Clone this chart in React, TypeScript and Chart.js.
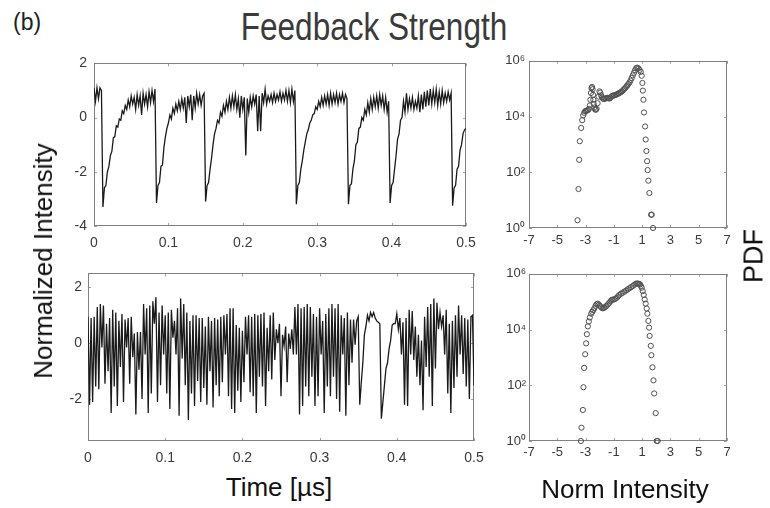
import React, { useEffect, useRef } from "react";
import { Chart, registerables } from "chart.js";

Chart.register(...registerables);

// ---------- data ----------
const SAMPLE_STEP_US = 0.002;

// top-left: normalized intensity vs time (one sample every 0.002 us, 0 .. 0.5 us)
const TOP_INTENSITY = [
  1.1, 0.6, 1.1, 0.7, 1.1, 1.0,
  -3.3, -2.6, -2.5, -2.0, -1.8, -1.4, -1.25, -0.75, -0.7, -0.3, -0.35, -0.05, -0.1, 0.25, 0.15,
  0.45, 0.3, 0.65, 0.4, 0.8, 0.5, 0.75, 0.3, 0.85, 0.45, 0.8, 0.1, 0.9, 0.5, 0.85, 0.4, 0.95, 0.55, 1.0, 0.6, 1.05,
  -3.15, -2.5, -2.4, -1.8, -1.75, -1.1, -0.7, -0.4, -0.2, 0.1, -0.05, 0.35, 0.15, 0.5, 0.25, 0.6, 0.3, 0.7, 0.35, 0.75,
  -0.2, 0.8, 0.4, 0.85, -0.1, 0.8, 0.35, 0.9, 0.5, 0.85, 0.45, 0.8, 0.9,
  -3.1, -2.5, -2.4, -1.9, -1.5, -1.0, -0.6, -0.4, -0.1, -0.2, 0.2, 0.05, 0.45, 0.2, 0.6, 0.3, 0.75, 0.35, 0.8, 0.4,
  0.85, 0.3, 0.7, 0.0, 0.8, 0.3, 0.75, -1.4, 0.7, 0.2, 0.75, 0.4, 0.8, 0.5, 0.85, -0.5, 0.8, -0.5, 0.9, 0.55,
  1.05, 0.5, 0.8, 0.6, 0.85, 0.55, 0.9, 0.6, 0.85, 0.65, 0.95, 0.6, 0.9, 0.65, 1.0, 0.6, 1.0, 0.55, 1.05, 0.6, 1.0,
  -3.2, -2.5, -2.4, -1.9, -1.6, -1.2, -0.9, -0.6, -0.45, -0.2, -0.1, 0.1, 0.15, 0.4, 0.3, 0.6, 0.4, 0.75, 0.45, 0.8,
  0.5, 0.85, 0.45, 0.9, 0.5, 0.85, 0.55, 0.9, 0.5, 0.85, 0.6, 0.9, 0.55, 0.85, 0.7,
  -3.2, -2.5, -2.45, -1.9, -1.6, -1.0, -0.9, -0.4, -0.35, 0.0, -0.1, 0.3, 0.1, 0.55, 0.2, 0.7, 0.3, 0.75, 0.4, 0.8,
  0.35, 0.85, 0.45, 0.8, 0.3, 0.75, 0.2, 0.6,
  -3.15, -2.5, -2.4, -1.9, -1.4, -0.8, -0.6, -0.1, 0.0, 0.6, 0.2, 0.9, 0.3, 0.7, 0.35, 0.75, 0.3, 0.6, 0.35, 0.8,
  0.2, 0.85, 0.3, 0.95, 0.4, 1.0, 0.45, 1.05, 0.5, 1.0, 0.55, 1.05, 0.45, 0.95, 0.5, 1.0, 0.55, 0.9, 0.6, 0.95, 0.65, 0.9,
  -3.25, -2.6, -2.5, -1.9, -1.8, -1.2, -1.0, -0.6, -0.45, -0.4,
];

// bottom-left: normalized intensity vs time (one sample every 0.002 us, 0 .. 0.5 us)
const BOTTOM_INTENSITY = [
  0.95, -2.2, 0.9, -2.1, 0.95, -1.55, 1.3, -1.65, 1.4, -0.15,
  1.35, -1.45, 0.7, -1.0, 0.9, -2.5, 1.2, -1.55, 1.1, -2.25,
  0.8, -0.85, 1.05, -2.1, 0.85, -0.15, 0.9, -1.45, 0.95, -0.5,
  0.35, -2.55, 0.4, -0.95, 0.4, -2.0, 1.4, -0.4, 1.25, -2.5,
  1.35, -1.8, 1.5, 0.7, 1.65, -2.1, 1.1, -1.5, 1.35, -0.4,
  1.0, -1.8, 1.1, -2.35, 1.2, 0.2, 0.8, -0.4, 1.25, -2.6,
  1.6, -0.55, 1.4, -1.5, 1.1, -2.75, 0.8, -1.8, 1.0, -2.25,
  1.0, -1.35, 0.9, -2.1, 0.9, -1.6, 0.6, -2.2, 0.95, -1.0,
  0.8, -2.3, 0.9, -1.5, 0.85, -1.9,
  0.95, -1.4, 1.0, -0.4, 1.05, -1.9, 1.25, -2.35, 1.25, -2.5,
  0.65, -1.7, 0.55, -2.1, 0.45, -1.4, 0.95, -0.4, 1.0, -1.75,
  0.95, -1.9, 1.05, -2.5, 1.0, -1.2, 1.05, -1.55, 1.1, -2.25,
  0.55, -1.0, 1.0, -1.3, 1.1, -0.6, 0.5, 0.0, 0.7, -1.9,
  0.3, -0.1, 0.6, -1.4, 0.35, -0.2, 0.5, -0.4, 1.3, -0.4,
  1.4, -2.55, 1.25, -2.25, 1.3, -1.55, 1.4, -1.9, 1.3, -1.2,
  1.05, -2.25, 0.95, -1.9, 1.25, -0.4, 0.8, -2.5, 1.05, -1.55,
  1.25, -1.9, 1.4, -1.2, 1.25, -2.0, 1.4, -2.45, 1.0, -0.4,
  0.9, -2.6, 1.1,
  -1.5, 0.85, -0.7, 0.85, -0.05, 0.8, 0.95, -2.2, -1.4, -0.7,
  0.3, 0.6, 1.0, 0.8, 1.1, 0.95, 1.1, 0.9, 0.8, 0.75,
  0.7, -2.7, -2.1, -1.5, -0.9, -0.7, -0.2, 0.1, 0.65, 0.7,
  0.7, 1.05, 0.5, 0.9, -0.4, 0.75, -2.2, 0.9, -2.25, 1.2,
  -0.4, 1.15, -0.6, 0.6, -1.2, 0.3, -1.5, 0.1, -2.4, 0.95,
  -0.85, 1.3, -1.2, 1.4, -2.25, 1.6, -0.9, 1.45, 0.5, 1.1,
  0.6, 1.0, -0.4, 1.2, -1.8, 0.7, -2.5, 0.8, -1.6, 1.0,
  -1.2, 1.35, -0.4, 1.0, -1.1, 0.9, -1.55, 0.85, -2.0, 0.95,
  1.0, -1.5,
];

// top-right PDF
const PDF_TOP_X = [
  -3.57, -3.5, -3.45, -3.41, -3.31, -3.24, -3.17, -3.1, -3.03, -2.97, -2.9, -2.83, -2.76, -2.7, -2.66, -2.62,
  -2.58, -2.54, -2.5, -2.47, -2.45, -2.42, -2.38, -2.33, -2.27, -2.22, -2.15, -2.08, -2.02, -1.96, -1.9, -1.84,
  -1.77, -1.7, -1.62, -1.55, -1.47, -1.4, -1.32, -1.25, -1.18, -1.1, -1.02, -0.95, -0.87, -0.8, -0.72, -0.65,
  -0.57, -0.5, -0.42, -0.35, -0.27, -0.2, -0.12, -0.05, 0.03, 0.1, 0.18, 0.26, 0.34, 0.42, 0.5, 0.58, 0.66,
  0.74, 0.82, 0.9, 0.97, 1.02, 1.05, 1.09, 1.13, 1.21, 1.25, 1.3, 1.35, 1.39, 1.44, 1.51, 1.63, 1.68, 1.77,
];
const PDF_TOP_Y = [
  1.9, 25, 280, 1300, 3900, 7400, 11000, 13500, 15500, 16000, 16500, 17000, 19000, 25000, 40000, 70000,
  105000, 115000, 95000, 60000, 40000, 28000, 21000, 18000, 17500, 19000, 30000, 52000, 80000, 72000, 58000, 48000,
  44000, 43000, 44000, 45000, 47000, 46000, 44000, 47000, 52000, 55000, 57000, 58000, 60000, 62000, 65000, 68000,
  72000, 76000, 80000, 88000, 97000, 105000, 118000, 130000, 148000, 165000, 195000, 240000, 300000, 370000, 460000, 550000, 565000,
  530000, 470000, 400000, 290000, 160000, 85000, 40000, 14000, 4400, 1500, 580, 250, 120, 50, 18, 3, 3, 1,
];

// bottom-right PDF
const PDF_BOTTOM_X = [
  -3.33, -3.29, -3.19, -3.15, -3.1, -3.03, -2.96, -2.91, -2.84, -2.77, -2.7, -2.6, -2.53, -2.46, -2.38, -2.29,
  -2.22, -2.15, -2.06, -1.98, -1.9, -1.8, -1.72, -1.66, -1.58, -1.51, -1.42, -1.32, -1.24, -1.16, -1.08, -0.99,
  -0.9, -0.8, -0.71, -0.62, -0.5, -0.38, -0.26, -0.14, -0.02, 0.09, 0.21, 0.33, 0.44, 0.54, 0.63, 0.71,
  0.78, 0.85, 0.91, 0.97, 1.04, 1.11, 1.18, 1.25, 1.32, 1.37, 1.44, 1.49, 1.53, 1.61, 1.65, 1.73, 1.8, 1.85,
  1.96, 2.03, 2.1,
];
const PDF_BOTTOM_Y = [
  1, 3, 13, 85, 420, 1300, 3200, 6800, 13000, 19500, 27000, 37000, 43000, 49000, 58000, 71000,
  80000, 85000, 79000, 70000, 63000, 58000, 59000, 62000, 67000, 71000, 80000, 91000, 103000, 115000, 118000, 120000,
  127000, 138000, 155000, 174000, 192000, 209000, 228000, 251000, 275000, 302000, 330000, 363000, 400000, 436000, 448000, 447000,
  435000, 417000, 370000, 316000, 240000, 174000, 120000, 85000, 57000, 37000, 20400, 11700, 5900, 2600, 1200, 440, 150, 51,
  10, 1, 1,
];

const TIME_TICKS = [0, 0.1, 0.2, 0.3, 0.4, 0.5];
const TOP_Y_TICKS = [-4, -2, 0, 2];
const BOTTOM_Y_TICKS = [-2, 0, 2];
const PDF_X_TICKS = [-7, -5, -3, -1, 1, 3, 5, 7];
const PDF_Y_TICKS = [1, 100, 10000, 1000000];

// ---------- styling helpers ----------
const FONT = "'Liberation Sans', Arial, Helvetica, sans-serif";
const SUP = ["⁰", "¹", "²", "³", "⁴", "⁵", "⁶"];

const framePlugin = {
  id: "matlabFrame",
  beforeDatasetsDraw(chart: any) {
    const { ctx, chartArea: a } = chart;
    const xs = chart.scales.x;
    const ys = chart.scales.y;
    ctx.save();
    ctx.strokeStyle = "#a0a0a0";
    ctx.lineWidth = 1;
    ctx.beginPath();
    for (const t of xs.ticks) {
      const p = Math.round(xs.getPixelForValue(t.value)) + 0.5;
      ctx.moveTo(p, a.bottom);
      ctx.lineTo(p, a.bottom - 3);
      ctx.moveTo(p, a.top);
      ctx.lineTo(p, a.top + 3);
    }
    for (const t of ys.ticks) {
      const p = Math.round(ys.getPixelForValue(t.value)) + 0.5;
      ctx.moveTo(a.left, p);
      ctx.lineTo(a.left + 3, p);
      ctx.moveTo(a.right, p);
      ctx.lineTo(a.right - 3, p);
    }
    ctx.stroke();
    ctx.strokeStyle = "#808080";
    ctx.strokeRect(
      Math.round(a.left) + 0.5,
      Math.round(a.top) + 0.5,
      Math.round(a.width) - 1,
      Math.round(a.height) - 1
    );
    ctx.restore();
  },
};

function axis(
  type: string,
  min: number,
  max: number,
  ticks: number[],
  fmt: (v: number) => string,
  pad: number,
  size: number,
  isX: boolean,
  fontSize: number
) {
  return {
    type,
    min,
    max,
    grid: { display: false, drawTicks: false },
    border: { display: false },
    ticks: {
      font: { family: FONT, size: fontSize },
      color: "#3a3a3a",
      padding: pad,
      autoSkip: false,
      maxRotation: 0,
      minRotation: 0,
      callback: (v: any) => fmt(Number(v)),
    },
    afterBuildTicks: (s: any) => {
      s.ticks = ticks.map((v) => ({ value: v }));
    },
    afterFit: (s: any) => {
      if (isX) s.height = size;
      else s.width = size;
    },
  };
}

const plain = (v: number) => String(v);
const pow10 = (v: number) => "10" + SUP[Math.round(Math.log10(v))];

function seriesConfig(
  values: number[],
  yMin: number,
  yMax: number,
  yTicks: number[],
  xPad: number,
  yPad: number,
  padding: any
) {
  return {
    type: "line",
    data: {
      datasets: [
        {
          data: values.map((v, i) => ({ x: i * SAMPLE_STEP_US, y: v })),
          borderColor: "#1a1a1a",
          borderWidth: 1.3,
          pointRadius: 0,
          tension: 0,
          fill: false,
        },
      ],
    },
    options: {
      responsive: false,
      animation: false,
      events: [],
      layout: { padding },
      plugins: { legend: { display: false }, tooltip: { enabled: false } },
      scales: {
        x: axis("linear", 0, 0.5, TIME_TICKS, plain, xPad, 30, true, 14),
        y: axis("linear", yMin, yMax, yTicks, plain, yPad, 40, false, 14),
      },
    },
    plugins: [framePlugin],
  };
}

function pdfConfig(xs: number[], ys: number[], xPad: number, yPad: number, padding: any) {
  return {
    type: "scatter",
    data: {
      datasets: [
        {
          data: xs.map((x, i) => ({ x, y: ys[i] })),
          pointRadius: 2.6,
          pointBorderWidth: 1,
          pointBorderColor: "#505050",
          pointBackgroundColor: "rgba(0,0,0,0)",
          clip: false,
        },
      ],
    },
    options: {
      responsive: false,
      animation: false,
      events: [],
      layout: { padding },
      plugins: { legend: { display: false }, tooltip: { enabled: false } },
      scales: {
        x: axis("linear", -7, 7, PDF_X_TICKS, plain, xPad, 30, true, 13),
        y: axis("logarithmic", 1, 1000000, PDF_Y_TICKS, pow10, yPad, 40, false, 13),
      },
    },
    plugins: [framePlugin],
  };
}

function Panel(props: { left: number; top: number; width: number; height: number; make: () => any }) {
  const ref = useRef<HTMLCanvasElement | null>(null);
  useEffect(() => {
    const chart = new Chart(ref.current as HTMLCanvasElement, props.make());
    return () => chart.destroy();
  }, []);
  return (
    <canvas
      ref={ref}
      width={props.width}
      height={props.height}
      style={{
        position: "absolute",
        left: props.left,
        top: props.top,
        width: props.width,
        height: props.height,
      }}
    />
  );
}

const textBase: React.CSSProperties = {
  position: "absolute",
  fontFamily: FONT,
  lineHeight: 1,
  whiteSpace: "nowrap",
  color: "#111",
};

export default function App() {
  return (
    <div
      style={{
        position: "fixed",
        left: 0,
        top: 0,
        width: 770,
        height: 508,
        background: "#fff",
        overflow: "hidden",
      }}
    >
      <Panel
        left={54}
        top={48}
        width={432}
        height={208}
        make={() => seriesConfig(TOP_INTENSITY, -4, 2, TOP_Y_TICKS, 9, 7, { left: 0, right: 20, top: 10, bottom: 0 })}
      />
      <Panel
        left={489}
        top={49}
        width={258}
        height={209}
        make={() => pdfConfig(PDF_TOP_X, PDF_TOP_Y, 5, 4, { left: 0, right: 20, top: 10, bottom: 0 })}
      />
      <Panel
        left={48}
        top={259}
        width={446}
        height={212}
        make={() => seriesConfig(BOTTOM_INTENSITY, -3.5, 2.5, BOTTOM_Y_TICKS, 9, 6, { left: 0, right: 20, top: 10, bottom: 0 })}
      />
      <Panel
        left={489}
        top={263}
        width={258}
        height={208}
        make={() => pdfConfig(PDF_BOTTOM_X, PDF_BOTTOM_Y, 4, 3, { left: 0, right: 20, top: 10, bottom: 0 })}
      />

      <div style={{ ...textBase, left: 13, top: 11, fontSize: 23, color: "#222" }}>(b)</div>
      <div
        style={{
          ...textBase,
          left: 374,
          top: 8,
          fontSize: 38,
          color: "#3a3a3a",
          transform: "translateX(-50%) scaleX(0.83)",
        }}
      >
        Feedback Strength
      </div>
      <div
        style={{
          ...textBase,
          left: 43,
          top: 261,
          fontSize: 26,
          transform: "translate(-50%, -50%) rotate(-90deg)",
        }}
      >
        Normalized Intensity
      </div>
      <div
        style={{
          ...textBase,
          left: 754,
          top: 256,
          fontSize: 27,
          transform: "translate(-50%, -50%) rotate(-90deg)",
        }}
      >
        PDF
      </div>
      <div style={{ ...textBase, left: 279, top: 474, fontSize: 26, transform: "translateX(-50%)" }}>
        Time [µs]
      </div>
      <div style={{ ...textBase, left: 625, top: 476, fontSize: 26, transform: "translateX(-50%)" }}>
        Norm Intensity
      </div>
    </div>
  );
}
